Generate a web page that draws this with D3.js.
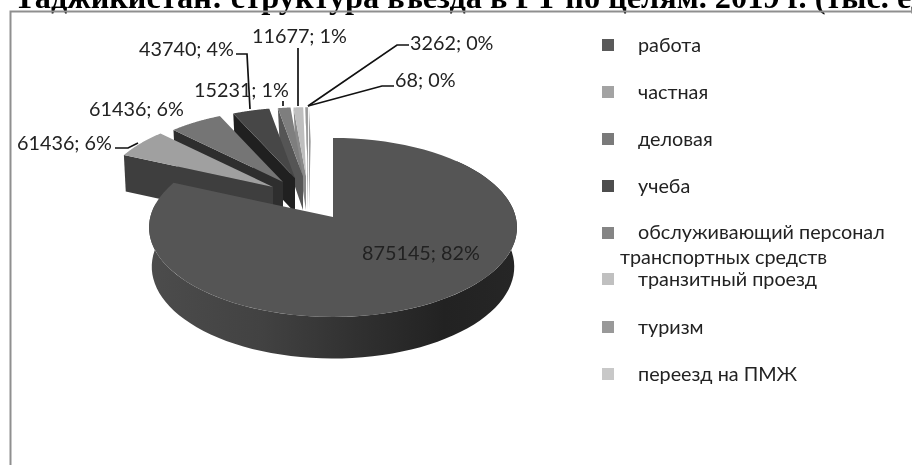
<!DOCTYPE html>
<html><head><meta charset="utf-8">
<style>html,body{margin:0;padding:0;background:#fff;overflow:hidden}svg{display:block;filter:blur(.4px)}</style>
<script src="https://cdn.jsdelivr.net/npm/d3@7"></script></head>
<body><svg id="c" width="912" height="465"></svg>
<script>
const titleText = "Таджикистан: структура въезда в РТ по целям. 2019 г. (тыс. ед.)";
const categories = ["работа","частная","деловая","учеба","обслуживающий персонал транспортных средств","транзитный проезд","туризм","переезд на ПМЖ"];
const values = [875145,61436,61436,43740,15231,11677,3262,68];
const percents = [82,6,6,4,1,1,0,0];
const topColors = ["#555555","#a0a0a0","#757575","#474747","#7e7e7e","#bebebe","#999999","#c8c8c8"];
const sideColors = ["#3a3a3a","#3e3e3e","#2e2e2e","#202020","#555555","#8a8a8a","#777777","#999999"];
const legendColors = ["#5a5a5a","#a3a3a3","#7a7a7a","#4d4d4d","#858585","#c0c0c0","#999999","#c8c8c8"];
// exploded slice apex (px) and perspective shrink
const apexX = [333,273,283,295,303,306,308,309];
const apexY = [217,187,182,178,176,176,176,176];
const shrink = [1,.935,.91,.89,.87,.87,.87,.87];

const svg = d3.select("#c");
const FONT = "Lato, 'Open Sans', sans-serif";
const FS = 19.8;
svg.append("text").attr("x",14).attr("y",8).attr("font-family","'Liberation Serif',serif")
  .attr("font-weight","bold").attr("font-size",32.3).attr("fill","#000").text(titleText);
svg.append("path").attr("d","M10.5,465V11.5H912").attr("fill","none").attr("stroke","#8f8f8f").attr("stroke-width",2);

const K=.117, RX=182.7, RY=88.3, DEPTH=39;
const proj=(a,rx=RX,ry=RY)=>{const u=Math.sin(a),v=-Math.cos(a),w=1-K*v;return [rx*u/w,ry*v/w];};
const pie = d3.pie().sort(null)(values);
const N=80;
function rim(s,e,sc,ax,ay,rx,ry,dy=0){return d3.range(N+1).map(i=>{const a=s+(e-s)*i/N,p=proj(a,rx,ry);return [ax+p[0]*sc,ay+dy+p[1]*sc];});}
const line=d3.line();
const defs=svg.append("defs");
const g=defs.append("linearGradient").attr("id","wall").attr("gradientUnits","userSpaceOnUse").attr("x1",150).attr("x2",518).attr("y1",0).attr("y2",0);
[[0,"#4c4c4c"],[.3,"#424242"],[.6,"#2e2e2e"],[.8,"#222222"],[1,"#262626"]].forEach(d=>g.append("stop").attr("offset",d[0]).attr("stop-color",d[1]));

const pies=svg.append("g");
// paint from the far small slices to the near big one
d3.range(values.length-1,-1,-1).forEach(i=>{
  const d=pie[i], sc=shrink[i], ax=apexX[i], ay=apexY[i];
  const top=rim(d.startAngle,d.endAngle,sc,ax,ay,RX,RY);
  if(i===0){
    const wallS=Math.PI*0.42, wallE=Math.PI*1.55;
    const a=rim(wallS-0.5,wallE,1,ax,ay,RX,RY), b=rim(wallS-0.5,wallE,1,ax,ay,180,90.5,DEPTH).reverse();
    pies.append("path").attr("d",line(a.concat(b))+"Z").attr("fill","url(#wall)");
  } else {
    const c=top[0], side=[[ax,ay],c,[c[0]+sc*2,c[1]+DEPTH*sc],[ax,ay+DEPTH*sc]];
    pies.append("path").attr("d",line(side)+"Z").attr("fill",sideColors[i]);
  }
  pies.append("path").attr("d",line([[ax,ay]].concat(top))+"Z").attr("fill",topColors[i]);
});

// leader lines
const leaders=[[[115,148],[128,148],[138,143]],[[236,54],[247,54],[250,109]],[[283,101],[283,106]],[[298,48],[298,106]],[[409,45],[397,45],[308,106]],[[394,86],[382,86],[308,106]]];
svg.append("g").selectAll("path").data(leaders).join("path").attr("d",d=>line(d)).attr("fill","none").attr("stroke","#111").attr("stroke-width",1.7);

// data labels
const labelPos=[[362,260],[17,150],[89,116],[139,56],[194,97],[252,43],[410,50],[395,87]];
svg.append("g").selectAll("text").data(values).join("text")
  .attr("x",(d,i)=>labelPos[i][0]).attr("y",(d,i)=>labelPos[i][1])
  .attr("font-family",FONT).attr("font-size",FS).attr("fill","#222")
  .text((d,i)=>d+"; "+percents[i]+"%");

// legend
const legY=[39,86,133,180,227,273,321,368];
const leg=svg.append("g");
const lt=(x,y,s)=>leg.append("text").attr("x",x).attr("y",y).attr("font-family",FONT).attr("font-size",FS).attr("fill","#222").text(s);
categories.forEach((c,i)=>{
  leg.append("rect").attr("x",602).attr("y",legY[i]).attr("width",12).attr("height",12).attr("fill",legendColors[i]);
  if(i===4){
    lt(638,legY[i]+12,"обслуживающий персонал");
    lt(620,legY[i]+37,"транспортных средств");
  } else {
    lt(638,legY[i]+13,c);
  }
});
</script></body></html>
